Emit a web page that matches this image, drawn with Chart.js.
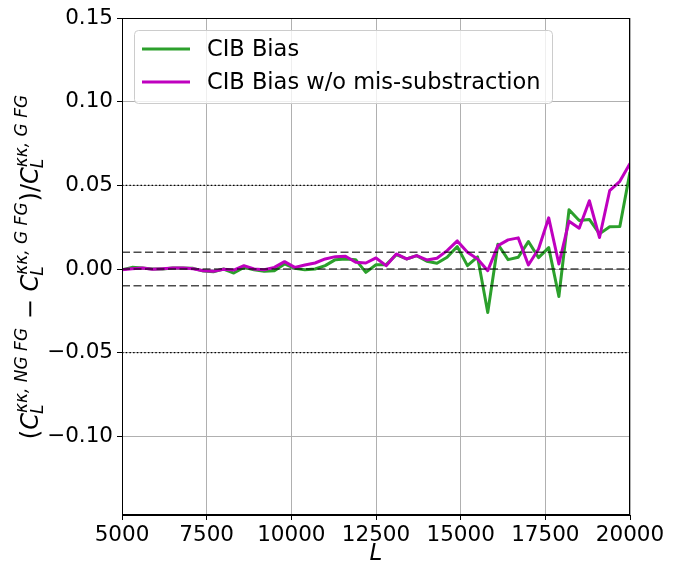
<!DOCTYPE html>
<html>
<head>
<meta charset="utf-8">
<script src="https://cdn.jsdelivr.net/npm/chart.js@4.4.1/dist/chart.umd.min.js"></script>
<style>
  html, body { margin: 0; padding: 0; background: #fff; }
  canvas { display: block; }
</style>
</head>
<body>
<canvas id="chart" width="683" height="563"></canvas>
<script>
const FONT = '"DejaVu Sans", sans-serif';

// multipole bins
const lValues = [
  5000, 5300, 5600, 5900, 6200, 6500, 6800, 7100, 7400, 7700,
  8000, 8300, 8600, 8900, 9200, 9500, 9800, 10100, 10400, 10700,
  11000, 11300, 11600, 11900, 12200, 12500, 12800, 13100, 13400, 13700,
  14000, 14300, 14600, 14900, 15200, 15500, 15800, 16100, 16400, 16700,
  17000, 17300, 17600, 17900, 18200, 18500, 18800, 19100, 19400, 19700,
  20000,
];

const cibBias = [
  -0.0004, 0.0010, 0.0006, 0.0000, 0.0000, 0.0006, 0.0006, 0.0004, -0.0012, -0.0016,
  0.0000, -0.0024, 0.0010, -0.0004, -0.0014, -0.0010, 0.0030, 0.0004, -0.0004, 0.0000,
  0.0020, 0.0056, 0.0060, 0.0056, -0.0020, 0.0025, 0.0026, 0.0086, 0.0060, 0.0080,
  0.0046, 0.0034, 0.0070, 0.0134, 0.0020, 0.0072, -0.0260, 0.0148, 0.0056, 0.0070,
  0.0164, 0.0068, 0.0128, -0.0164, 0.0354, 0.0290, 0.0296, 0.0210, 0.0252, 0.0254,
  0.0580,
];

const cibBiasNoMis = [
  -0.0004, 0.0002, 0.0006, -0.0002, 0.0002, 0.0006, 0.0006, 0.0002, -0.0010, -0.0014,
  -0.0002, -0.0006, 0.0020, 0.0000, -0.0004, 0.0010, 0.0044, 0.0010, 0.0024, 0.0036,
  0.0060, 0.0074, 0.0076, 0.0040, 0.0036, 0.0066, 0.0020, 0.0090, 0.0060, 0.0080,
  0.0054, 0.0064, 0.0110, 0.0168, 0.0100, 0.0060, -0.0010, 0.0140, 0.0174, 0.0186,
  0.0024, 0.0120, 0.0306, 0.0030, 0.0286, 0.0244, 0.0408, 0.0188, 0.0468, 0.0524,
  0.0630,
];

const dottedLevels = [0.05, -0.05];
const dashedLevels = [0.01, 0.0, -0.01];

const xTicks = [5000, 7500, 10000, 12500, 15000, 17500, 20000];
const yTicks = [-0.10, -0.05, 0.00, 0.05, 0.10, 0.15];
const xRange = [5000, 20000];
const yRange = [-0.147, 0.15];

const toPoints = (ys) => ys.map((y, i) => ({ x: lValues[i], y }));
const flatLine = (v) => xRange.map((x) => ({ x, y: v }));

const datasets = [
  {
    label: "CIB Bias",
    data: toPoints(cibBias),
    borderColor: "#2ca02c",
    borderWidth: 3,
    pointRadius: 0,
    borderJoinStyle: "round",
    inLegend: true,
    order: 2,
  },
  {
    label: "CIB Bias w/o mis-substraction",
    data: toPoints(cibBiasNoMis),
    borderColor: "#bf00bf",
    borderWidth: 3,
    pointRadius: 0,
    borderJoinStyle: "round",
    inLegend: true,
    order: 1,
  },
  ...dottedLevels.map((v) => ({
    data: flatLine(v),
    borderColor: "#000",
    borderWidth: 1.2,
    borderDash: [1.5, 2.2],
    pointRadius: 0,
    order: 0,
  })),
  ...dashedLevels.map((v) => ({
    data: flatLine(v),
    borderColor: "rgba(0,0,0,0.7)",
    borderWidth: 1.5,
    borderDash: [8, 3.5],
    pointRadius: 0,
    order: 0,
  })),
];

// y label pieces: (C_L^{kk,NG FG} - C_L^{kk,G FG})/C_L^{kk,G FG}
const yLabelPieces = [
  { t: "(" },
  { t: "C", it: true },
  { sup: "κκ, NG FG", sub: "L" },
  { t: " − " },
  { t: "C", it: true },
  { sup: "κκ, G FG", sub: "L" },
  { t: ")/" },
  { t: "C", it: true },
  { sup: "κκ, G FG", sub: "L" },
];

function drawMath(ctx, pieces, main, small) {
  const fMain = `${main}px ${FONT}`;
  const fIt = `italic ${main}px ${FONT}`;
  const fSmall = `italic ${small}px ${FONT}`;
  const widths = pieces.map((p) => {
    if (p.sup) {
      ctx.font = fSmall;
      return Math.max(ctx.measureText(p.sup).width, ctx.measureText(p.sub).width) + 1;
    }
    ctx.font = p.it ? fIt : fMain;
    return ctx.measureText(p.t).width;
  });
  const total = widths.reduce((a, b) => a + b, 0);
  let x = -total / 2;
  pieces.forEach((p, i) => {
    if (p.sup) {
      ctx.font = fSmall;
      ctx.fillText(p.sup, x, -main * 0.45);
      ctx.fillText(p.sub, x - 1, main * 0.22);
    } else {
      ctx.font = p.it ? fIt : fMain;
      ctx.fillText(p.t, x, 0);
    }
    x += widths[i];
  });
}

const decorations = {
  id: "decorations",
  afterDraw(chart) {
    const { ctx, chartArea: a } = chart;
    ctx.save();

    // frame
    ctx.strokeStyle = "#000";
    ctx.lineWidth = 1;
    ctx.strokeRect(a.left + 0.5, a.top + 0.5, a.right - a.left - 1, a.bottom - a.top - 1);

    // legend
    const items = chart.data.datasets.filter((d) => d.inLegend);
    const bx = a.left + 12, by = a.top + 12, bw = 418, bh = 73;
    ctx.fillStyle = "rgba(255,255,255,0.8)";
    ctx.strokeStyle = "#cccccc";
    ctx.beginPath();
    ctx.roundRect(bx + 0.5, by + 0.5, bw, bh, 4);
    ctx.fill();
    ctx.stroke();
    ctx.font = `22.5px ${FONT}`;
    ctx.textBaseline = "middle";
    items.forEach((d, i) => {
      const cy = by + 19 + i * 33;
      ctx.strokeStyle = d.borderColor;
      ctx.lineWidth = 3;
      ctx.beginPath();
      ctx.moveTo(bx + 8, cy);
      ctx.lineTo(bx + 56, cy);
      ctx.stroke();
      ctx.fillStyle = "#000";
      ctx.fillText(d.label, bx + 73, cy + 1);
    });

    // x title
    ctx.fillStyle = "#000";
    ctx.textBaseline = "alphabetic";
    ctx.textAlign = "center";
    ctx.font = `italic 23px ${FONT}`;
    ctx.fillText("L", (a.left + a.right) / 2, 560);

    // y title
    ctx.textAlign = "left";
    ctx.translate(38, (a.top + a.bottom) / 2);
    ctx.rotate(-Math.PI / 2);
    drawMath(ctx, yLabelPieces, 24, 17);

    ctx.restore();
  },
};

new Chart(document.getElementById("chart"), {
  type: "line",
  data: { datasets },
  plugins: [decorations],
  options: {
    responsive: false,
    devicePixelRatio: 1,
    animation: false,
    events: [],
    layout: { padding: { top: 18, right: 53, left: 0, bottom: 0 } },
    plugins: { legend: { display: false }, tooltip: { enabled: false } },
    elements: { line: { tension: 0 } },
    scales: {
      x: {
        type: "linear",
        min: xRange[0],
        max: xRange[1],
        afterBuildTicks: (s) => { s.ticks = xTicks.map((value) => ({ value })); },
        afterFit: (s) => { s.height = 48; },
        ticks: {
          color: "#000",
          font: { family: FONT, size: 21.5 },
          padding: 3,
          autoSkip: false,
          maxRotation: 0,
          callback: (v) => String(v),
        },
        grid: { color: "#b0b0b0", lineWidth: 1, tickColor: "#000", tickLength: 5 },
        border: { color: "#000", width: 1 },
      },
      y: {
        min: yRange[0],
        max: yRange[1],
        afterBuildTicks: (s) => { s.ticks = yTicks.map((value) => ({ value })); },
        afterFit: (s) => { s.width = 122; },
        ticks: {
          color: "#000",
          font: { family: FONT, size: 21.5 },
          padding: 4,
          callback: (v) => (v < -1e-9 ? "−" : "") + Math.abs(v).toFixed(2),
        },
        grid: { color: "#b0b0b0", lineWidth: 1, tickColor: "#000", tickLength: 5 },
        border: { color: "#000", width: 1 },
      },
    },
  },
});
</script>
</body>
</html>
